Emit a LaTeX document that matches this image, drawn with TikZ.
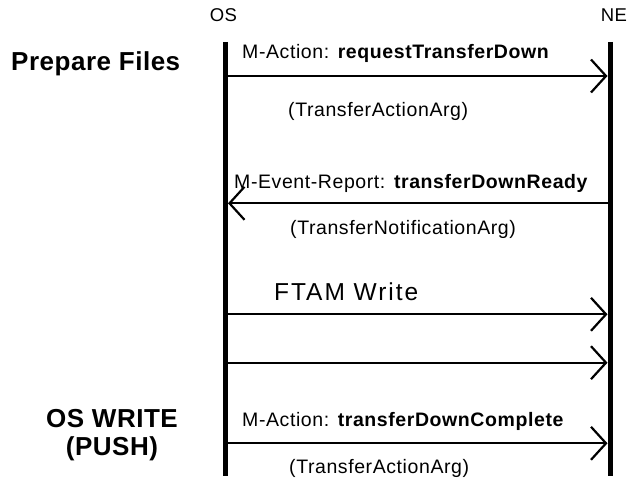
\documentclass[tikz,border=0pt]{standalone}
\usepackage{fontspec}
\setmainfont{Liberation Sans}
\newfontfamily\lblfam[LetterSpace=3]{Liberation Sans}
\newfontfamily\ttlfam[LetterSpace=2]{Liberation Sans}
\newfontfamily\ftamfam[LetterSpace=8]{Liberation Sans}
\newfontfamily\hdfam[LetterSpace=2]{Liberation Sans}
\usetikzlibrary{arrows.meta}
\tikzset{
  lifeline/.style={line width=5pt},
  msg/.style={line width=2pt,-{Straight Barb[length=15pt,width=33pt,line width=2.2pt]}},
  lbl/.style={anchor=base west,inner sep=0pt,font=\lblfam\fontsize{19.5}{22}\selectfont},
  ftam/.style={anchor=base west,inner sep=0pt,font=\ftamfam\fontsize{24.5}{28}\selectfont},
  ttl/.style={inner sep=0pt,font=\ttlfam\bfseries\fontsize{26}{30}\selectfont},
  head/.style={anchor=base,inner sep=0pt,font=\hdfam\fontsize{18.5}{22}\selectfont},
}
\begin{document}
\begin{tikzpicture}[x=1pt,y=-1pt]
\useasboundingbox (0,0) rectangle (630,481);
% lifeline heads
\node[head] (os) at (223.5,22) {OS};
\node[head] (ne) at (614,22) {NE};
% lifelines
\coordinate (osT) at (225.5,42);
\coordinate (osB) at (225.5,476);
\coordinate (neT) at (610,42);
\coordinate (neB) at (610,476);
\draw[lifeline] (osT) -- (osB);
\draw[lifeline] (neT) -- (neB);
% message end points
\foreach \i/\y in {1/76,2/203.3,3/314.3,4/362.7,5/443.3}{
  \coordinate (os\i) at (228,\y);
  \coordinate (ne\i) at (607.5,\y);
}
\draw[msg] (os1) -- (ne1);
\draw[msg] (ne2) -- (os2);
\draw[msg] (os3) -- (ne3);
\draw[msg] (os4) -- (ne4);
\draw[msg] (os5) -- (ne5);
% labels
\node[lbl] (l1) at (242,59) {M-Action: \textbf{requestTransferDown}};
\node[lbl] (a1) at (288,117) {(TransferActionArg)};
\node[lbl] (l2) at (234,189) {M-Event-Report: \textbf{transferDownReady}};
\node[lbl] (a2) at (290,235) {(TransferNotificationArg)};
\node[ftam] (l3) at (274,301) {FTAM Write};
\node[lbl] (l5) at (242,427) {M-Action: \textbf{transferDownComplete}};
\node[lbl] (a5) at (289,473) {(TransferActionArg)};
% section titles
\node[ttl,anchor=base west] (t1) at (11,71) {Prepare Files};
\node[ttl,anchor=base] (t2a) at (112,428) {OS WRITE};
\node[ttl,anchor=base] (t2b) at (112,456) {(PUSH)};
\end{tikzpicture}
\end{document}
